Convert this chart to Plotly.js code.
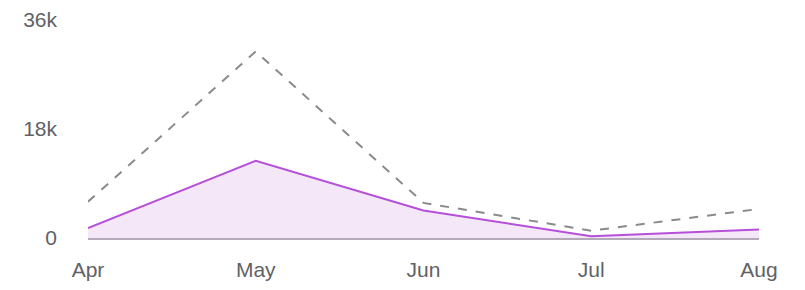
<!DOCTYPE html>
<html>
<head>
<meta charset="utf-8">
<script src="https://cdn.plot.ly/plotly-3.0.1.min.js"></script>
<style>html,body{margin:0;padding:0;background:#fff;}#chart{width:805px;height:290px;}</style>
</head>
<body>
<div id="chart"></div>
<script>
const months = ["Apr", "May", "Jun", "Jul", "Aug"];
const actualValues = [1650, 12750, 4550, 300, 1400];
const comparisonValues = [6000, 30800, 5800, 1200, 4800];
const yTickValues = [0, 18000, 36000];
const yTickLabels = ["0", "18k", "36k"];

const traces = [
  {
    x: months, y: comparisonValues, type: "scatter", mode: "lines",
    line: {color: "#8a8a8a", width: 2, dash: "dash"},
    hoverinfo: "skip", showlegend: false
  },
  {
    x: months, y: actualValues, type: "scatter", mode: "lines",
    fill: "tozeroy", fillcolor: "rgba(226,196,238,0.4)",
    line: {color: "#b64fd9", width: 2},
    hoverinfo: "skip", showlegend: false
  }
];

const layout = {
  width: 805, height: 290,
  margin: {l: 88, r: 46, t: 20, b: 52},
  paper_bgcolor: "#fff", plot_bgcolor: "#fff",
  font: {family: "Liberation Sans, Arial, sans-serif", size: 21, color: "#606266"},
  xaxis: {
    type: "category", range: [0, 4], showgrid: false, zeroline: false,
    showline: true, linecolor: "#b3aab9", linewidth: 2,
    ticks: "", ticklabelstandoff: 12, fixedrange: true
  },
  yaxis: {
    range: [0, 36000], showgrid: false, zeroline: false, showline: false,
    tickvals: yTickValues, ticktext: yTickLabels,
    ticks: "", ticklabelstandoff: 30, fixedrange: true
  }
};

Plotly.newPlot("chart", traces, layout, {displayModeBar: false, staticPlot: true});
</script>
</body>
</html>
